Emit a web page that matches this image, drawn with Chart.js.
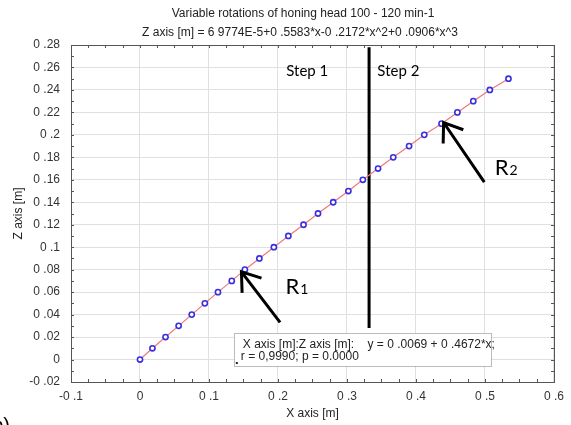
<!DOCTYPE html>
<html lang="en">
<head>
  <meta charset="UTF-8">
  <title>Variable rotations of honing head</title>
  <style>
    body { margin: 0; background: #fff; }
    #wrap { width: 571px; height: 425px; position: relative; }
  </style>
  <script src="https://cdn.jsdelivr.net/npm/chart.js@4.4.1/dist/chart.umd.min.js"></script>
</head>
<body>
  <div id="wrap"><canvas id="chart" width="571" height="425"></canvas></div>

  <script>
    // --- data ---
    const xVals = [0, 0.018, 0.037, 0.056, 0.075, 0.094, 0.113, 0.133, 0.152, 0.173, 0.194,
                   0.215, 0.237, 0.258, 0.280, 0.302, 0.323, 0.345, 0.367, 0.390, 0.412,
                   0.437, 0.460, 0.483, 0.507, 0.534];
    const zVals = [0, 0.01, 0.02, 0.03, 0.04, 0.05, 0.06, 0.07, 0.08, 0.09, 0.10,
                   0.11, 0.12, 0.13, 0.14, 0.15, 0.16, 0.17, 0.18, 0.19, 0.20,
                   0.21, 0.22, 0.23, 0.24, 0.25];

    // step boundary (vertical black line)
    const stepX = [0.332, 0.332];
    const stepZ = [0.028, 0.278];

    const titleLines = [
      'Variable rotations of honing head 100 - 120 min-1',
      'Z axis [m] = 6 9774E-5+0 .5583*x-0 .2172*x^2+0 .0906*x^3'
    ];
    const legendLines = [
      'X axis [m]:Z axis [m]:    y = 0 .0069 + 0 .4672*x;',
      'r = 0,9990; p = 0.0000'
    ];

    // arrows: [tipX, tipZ, tailX, tailZ] in data units
    const arrowR1 = [0.147, 0.078, 0.203, 0.033];
    const arrowR2 = [0.440, 0.211, 0.499, 0.158];

    const pts = xVals.map((x, i) => ({ x: x, y: zVals[i] }));
    const stepPts = stepX.map((x, i) => ({ x: x, y: stepZ[i] }));

    // "0.28" -> "0 .28" like the original export
    function fmt(v) {
      const r = Math.round(v * 100) / 100;
      if (r === 0) return '0';
      let s = r.toFixed(2).replace(/0+$/, '');
      return s.replace('.', ' .');
    }

    const AR = '"Liberation Sans", Arial, sans-serif';
    const CAL = 'Lato, "Open Sans", sans-serif';

    function arrow(ctx, sx, sy, a) {
      const tx = sx.getPixelForValue(a[0]), ty = sy.getPixelForValue(a[1]);
      const bx = sx.getPixelForValue(a[2]), by = sy.getPixelForValue(a[3]);
      const ang = Math.atan2(by - ty, bx - tx);
      ctx.beginPath();
      ctx.moveTo(bx, by); ctx.lineTo(tx, ty);
      ctx.moveTo(tx + 21 * Math.cos(ang + 0.62), ty + 21 * Math.sin(ang + 0.62));
      ctx.lineTo(tx, ty);
      ctx.lineTo(tx + 21 * Math.cos(ang - 0.62), ty + 21 * Math.sin(ang - 0.62));
      ctx.stroke();
    }

    // --- frame, inward minor ticks, titles and annotations ---
    const extras = {
      id: 'extras',
      afterDatasetsDraw(chart) {
        const { ctx, chartArea: a, scales: { x, y } } = chart;
        ctx.save();

        // arrows
        ctx.strokeStyle = '#000';
        ctx.lineWidth = 3;
        ctx.lineCap = 'butt';
        arrow(ctx, x, y, arrowR1);
        arrow(ctx, x, y, arrowR2);

        // R1 / R2 labels
        ctx.fillStyle = '#000';
        ctx.textBaseline = 'alphabetic';
        ctx.textAlign = 'left';
        [[0.211, 0.058, '1'], [0.514, 0.164, '2']].forEach(r => {
          const px = x.getPixelForValue(r[0]), py = y.getPixelForValue(r[1]);
          ctx.font = '22px ' + CAL;
          ctx.fillText('R', px, py);
          const w = ctx.measureText('R').width;
          ctx.font = '14px ' + CAL;
          ctx.fillText(r[2], px + w + 1, py);
        });

        // Step labels
        ctx.font = '15px ' + CAL;
        ctx.textBaseline = 'middle';
        ctx.fillText('Step 1', x.getPixelForValue(0.212), y.getPixelForValue(0.257));
        ctx.fillText('Step 2', x.getPixelForValue(0.344), y.getPixelForValue(0.257));

        // regression legend box
        const l = x.getPixelForValue(0.136), t = y.getPixelForValue(0.0236);
        const r = x.getPixelForValue(0.509), b = y.getPixelForValue(-0.0058);
        ctx.fillStyle = '#fff';
        ctx.fillRect(l, t, r - l, b - t);
        ctx.setLineDash([1, 1]);
        ctx.strokeStyle = '#777';
        ctx.lineWidth = 1;
        ctx.strokeRect(Math.round(l) + 0.5, Math.round(t) + 0.5, Math.round(r - l), Math.round(b - t));
        ctx.setLineDash([]);
        ctx.fillStyle = '#222';
        ctx.font = '12px ' + AR;
        ctx.fillText(legendLines[0], l + 9, t + 12);
        ctx.fillText(legendLines[1], l + 7, t + 24);
        ctx.fillRect(l + 2, b - 4, 2, 2);

        ctx.restore();
      },
      afterDraw(chart) {
        const { ctx, chartArea: a, scales: { x, y } } = chart;
        ctx.save();
        ctx.strokeStyle = '#555';
        ctx.lineWidth = 1;
        ctx.strokeRect(Math.round(a.left) + 0.5, Math.round(a.top) + 0.5,
                       Math.round(a.right - a.left), Math.round(a.bottom - a.top));

        ctx.beginPath();
        for (let v = -0.1; v <= 0.6001; v += 0.025) {
          const px = Math.round(x.getPixelForValue(v)) + 0.5;
          ctx.moveTo(px, a.bottom); ctx.lineTo(px, a.bottom - 3);
          ctx.moveTo(px, a.top); ctx.lineTo(px, a.top + 3);
        }
        for (let v = -0.02; v <= 0.2801; v += 0.01) {
          const py = Math.round(y.getPixelForValue(v)) + 0.5;
          ctx.moveTo(a.left, py); ctx.lineTo(a.left + 3, py);
          ctx.moveTo(a.right, py); ctx.lineTo(a.right - 3, py);
        }
        ctx.stroke();

        // two-line title
        ctx.fillStyle = '#222';
        ctx.font = '12px ' + AR;
        ctx.textAlign = 'center';
        ctx.textBaseline = 'middle';
        ctx.fillText(titleLines[0], 303, 14);
        ctx.fillText(titleLines[1], 300, 33);

        // cut-off panel letter
        ctx.font = '20px ' + AR;
        ctx.textAlign = 'right';
        ctx.textBaseline = 'alphabetic';
        ctx.fillStyle = '#000';
        ctx.fillText('b)', 10, 432);
        ctx.restore();
      }
    };

    new Chart(document.getElementById('chart'), {
      type: 'scatter',
      data: {
        datasets: [
          {
            label: 'points',
            data: pts,
            showLine: false,
            pointRadius: 2.6,
            pointBorderWidth: 1.6,
            pointBorderColor: '#3a2fe0',
            pointBackgroundColor: '#ffffff'
          },
          {
            label: 'fit',
            data: pts,
            showLine: true,
            borderColor: '#f07878',
            borderWidth: 1.2,
            pointRadius: 0
          },
          {
            label: 'step',
            data: stepPts,
            showLine: true,
            borderColor: '#000',
            borderWidth: 3,
            pointRadius: 0
          }
        ]
      },
      options: {
        responsive: false,
        animation: false,
        layout: { padding: { top: 45, right: 8, left: 0, bottom: 0 } },
        plugins: {
          legend: { display: false },
          tooltip: { enabled: false }
        },
        scales: {
          x: {
            type: 'linear',
            min: -0.1, max: 0.6,
            afterFit: s => { s.height = 43; },
            ticks: {
              stepSize: 0.1,
              padding: 7,
              color: '#333',
              font: { family: AR, size: 12 },
              callback: v => fmt(v)
            },
            grid: { color: '#e0e0e0', drawTicks: false },
            border: { display: false },
            title: {
              display: true,
              text: 'X axis [m]',
              color: '#222',
              font: { family: AR, size: 12 },
              padding: { top: 0, bottom: 4 }
            }
          },
          y: {
            type: 'linear',
            min: -0.02, max: 0.28,
            afterFit: s => { s.width = 71; },
            ticks: {
              stepSize: 0.02,
              padding: 11,
              color: '#333',
              font: { family: AR, size: 12 },
              callback: v => fmt(v)
            },
            grid: { color: '#e0e0e0', drawTicks: false },
            border: { display: false },
            title: {
              display: true,
              text: 'Z axis [m]',
              color: '#222',
              font: { family: AR, size: 12 },
              padding: { top: 11, bottom: 0 }
            }
          }
        }
      },
      plugins: [extras]
    });
  </script>
</body>
</html>
